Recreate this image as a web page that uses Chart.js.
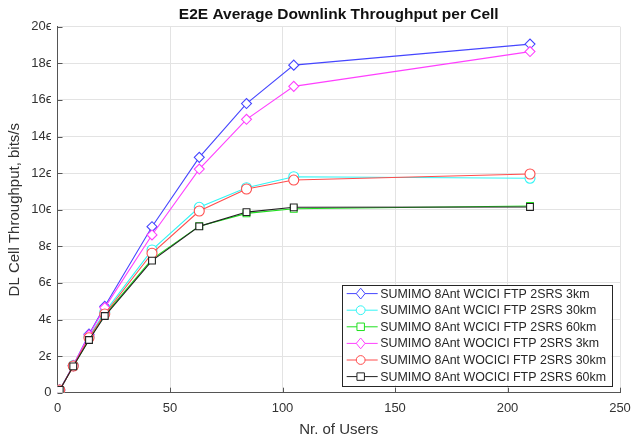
<!DOCTYPE html>
<html>
<head>
<meta charset="utf-8">
<script src="https://cdn.jsdelivr.net/npm/chart.js@4/dist/chart.umd.min.js"></script>
<style>
  html, body { margin: 0; padding: 0; background: #fff; }
  #wrap { width: 633px; height: 439px; }
</style>
</head>
<body>
<div id="wrap"><canvas id="tputChart" width="633" height="439"></canvas></div>
<script>
// ---------------- data (throughput in units of 1e6 bits/s) ----------------
const users = [1, 7, 14, 21, 42, 63, 84, 105, 210];

const wcici3km   = [0.15, 1.48, 3.2, 4.72, 9.07, 12.86, 15.8, 17.9, 19.05];
const wcici30km  = [0.15, 1.48, 3.05, 4.4, 7.8, 10.13, 11.2, 11.8, 11.72];
const wcici60km  = [0.15, 1.45, 2.9, 4.25, 7.3, 9.1, 9.8, 10.05, 10.2];
const wocici3km  = [0.15, 1.48, 3.15, 4.65, 8.62, 12.22, 14.94, 16.74, 18.64];
const wocici30km = [0.15, 1.46, 3.0, 4.3, 7.62, 9.93, 11.13, 11.62, 11.95];
const wocici60km = [0.15, 1.44, 2.88, 4.19, 7.22, 9.09, 9.87, 10.13, 10.15];

const seriesNames = [
    'SUMIMO 8Ant WCICI FTP 2SRS 3km',
    'SUMIMO 8Ant WCICI FTP 2SRS 30km',
    'SUMIMO 8Ant WCICI FTP 2SRS 60km',
    'SUMIMO 8Ant WOCICI FTP 2SRS 3km',
    'SUMIMO 8Ant WOCICI FTP 2SRS 30km',
    'SUMIMO 8Ant WOCICI FTP 2SRS 60km'
];
const seriesValues = [wcici3km, wcici30km, wcici60km, wocici3km, wocici30km, wocici60km];
const seriesColors = ['#4646ff', '#33f5f5', '#1fe01f', '#ff40ff', '#ff4d4d', '#222222'];
const seriesMarkers = ['rectRot', 'circle', 'rect', 'rectRot', 'circle', 'rect'];

const yTickLabels = ['0', '2\u03f5', '4\u03f5', '6\u03f5', '8\u03f5', '10\u03f5',
                     '12\u03f5', '14\u03f5', '16\u03f5', '18\u03f5', '20\u03f5'];

const chartTitle = 'E2E Average Downlink Throughput per Cell';

const FONT = '"Liberation Sans", Arial, Helvetica, sans-serif';
const TEXT = '#333333';

// ---------------- marker helper (for the legend box) ----------------
function drawMarker(ctx, style, x, y, r) {
    ctx.beginPath();
    if (style === 'circle') {
        ctx.arc(x, y, r, 0, Math.PI * 2);
    } else if (style === 'rect') {
        const s = r * 0.85;
        ctx.rect(x - s, y - s, 2 * s, 2 * s);
    } else { // rectRot (diamond)
        ctx.moveTo(x, y - r - 1);
        ctx.lineTo(x + r, y);
        ctx.lineTo(x, y + r + 1);
        ctx.lineTo(x - r, y);
        ctx.closePath();
    }
    ctx.fill();
    ctx.stroke();
}

// Title centred over the plot area (not the whole canvas), like MATLAB
const areaTitlePlugin = {
    id: 'areaTitle',
    afterDraw: (chart) => {
        const ctx = chart.ctx;
        const area = chart.chartArea;
        ctx.save();
        ctx.font = 'bold 15.5px ' + FONT;
        ctx.fillStyle = '#111111';
        ctx.textAlign = 'center';
        ctx.textBaseline = 'middle';
        ctx.fillText(chartTitle, (area.left + area.right) / 2, 14.5);
        ctx.restore();
    }
};

// Small inward tick marks on the bottom and left axes
const inwardTicksPlugin = {
    id: 'inwardTicks',
    beforeDatasetsDraw: (chart) => {
        const ctx = chart.ctx;
        const area = chart.chartArea;
        const xs = chart.scales.x, ys = chart.scales.y;
        ctx.save();
        ctx.strokeStyle = '#555555';
        ctx.lineWidth = 1;
        ctx.beginPath();
        xs.ticks.forEach(t => {
            const px = Math.round(xs.getPixelForValue(t.value)) + 0.5;
            ctx.moveTo(px, area.bottom);
            ctx.lineTo(px, area.bottom - 5);
        });
        ys.ticks.forEach(t => {
            const py = Math.round(ys.getPixelForValue(t.value)) + 0.5;
            ctx.moveTo(area.left, py);
            ctx.lineTo(area.left + 5, py);
        });
        ctx.stroke();
        ctx.restore();
    }
};

// Legend drawn inside the plot, bottom-right corner (MATLAB style)
const boxLegendPlugin = {
    id: 'boxLegend',
    afterDatasetsDraw: (chart) => {
        const ctx = chart.ctx;
        const area = chart.chartArea;
        const rowH = 16.6;
        ctx.save();
        ctx.font = '12.4px ' + FONT;
        let maxW = 0;
        seriesNames.forEach(n => { maxW = Math.max(maxW, ctx.measureText(n).width); });
        const w = 39 + maxW + 5;
        const h = rowH * seriesNames.length + 1;
        const right = area.right - 8.5;
        const bottom = area.bottom - 7.5;
        const left = right - w;
        const top = bottom - h;

        ctx.fillStyle = '#ffffff';
        ctx.fillRect(left, top, w, h);
        ctx.strokeStyle = '#262626';
        ctx.lineWidth = 1;
        ctx.strokeRect(Math.round(left) + 0.5, Math.round(top) + 0.5, Math.round(w), Math.round(h));

        seriesNames.forEach((name, i) => {
            const y = top + 9 + i * rowH;
            ctx.strokeStyle = seriesColors[i];
            ctx.lineWidth = 1;
            ctx.beginPath();
            ctx.moveTo(left + 5, y);
            ctx.lineTo(left + 36, y);
            ctx.stroke();
            ctx.fillStyle = '#ffffff';
            drawMarker(ctx, seriesMarkers[i], left + 19, y, 4.4);
            ctx.fillStyle = '#262626';
            ctx.textBaseline = 'middle';
            ctx.textAlign = 'left';
            ctx.fillText(name, left + 38.5, y + 0.5);
        });
        ctx.restore();
    }
};

const datasets = seriesValues.map((vals, i) => ({
    label: seriesNames[i],
    data: vals.map((v, k) => ({ x: users[k], y: v })),
    borderColor: seriesColors[i],
    backgroundColor: '#ffffff',
    borderWidth: 1.1,
    pointStyle: seriesMarkers[i],
    pointRadius: seriesMarkers[i] === 'rect' ? 4.8 : 5,
    pointBorderWidth: 1.1,
    pointBorderColor: seriesColors[i],
    pointBackgroundColor: '#ffffff',
    tension: 0,
    order: seriesValues.length - 1 - i  // later series on top
}));

new Chart(document.getElementById('tputChart').getContext('2d'), {
    type: 'line',
    data: { datasets: datasets },
    options: {
        responsive: false,
        animation: false,
        devicePixelRatio: 1,
        layout: { padding: { left: 0, right: 13, top: 26.7, bottom: 0 } },
        plugins: {
            legend: { display: false },
            tooltip: { enabled: false },
            title: { display: false }
        },
        scales: {
            x: {
                type: 'linear',
                min: 0,
                max: 250,
                ticks: {
                    stepSize: 50,
                    color: TEXT,
                    padding: 8,
                    maxRotation: 0,
                    font: { family: FONT, size: 13 }
                },
                grid: { color: '#e3e3e3', drawTicks: false },
                border: { color: '#555555' },
                title: {
                    display: true,
                    text: 'Nr. of Users',
                    color: TEXT,
                    font: { family: FONT, size: 15 },
                    padding: { top: 0, bottom: 0.5 }
                },
                afterFit: (scale) => {
                    scale.height = 46.3;
                    scale.paddingLeft = 0;
                    scale.paddingRight = 0;
                }
            },
            y: {
                min: 0,
                max: 20,
                ticks: {
                    stepSize: 2,
                    color: TEXT,
                    padding: 6,
                    font: { family: FONT, size: 13 },
                    callback: (v) => yTickLabels[Math.round(v / 2)]
                },
                grid: { color: '#e3e3e3', drawTicks: false },
                border: { color: '#555555' },
                title: {
                    display: true,
                    text: 'DL Cell Throughput, bits/s',
                    color: TEXT,
                    font: { family: FONT, size: 15 },
                    padding: { top: 6, bottom: 0 }
                },
                afterFit: (scale) => {
                    scale.width = 57.5;
                    scale.paddingTop = 0;
                    scale.paddingBottom = 0;
                }
            }
        }
    },
    plugins: [areaTitlePlugin, inwardTicksPlugin, boxLegendPlugin]
});
</script>
</body>
</html>
